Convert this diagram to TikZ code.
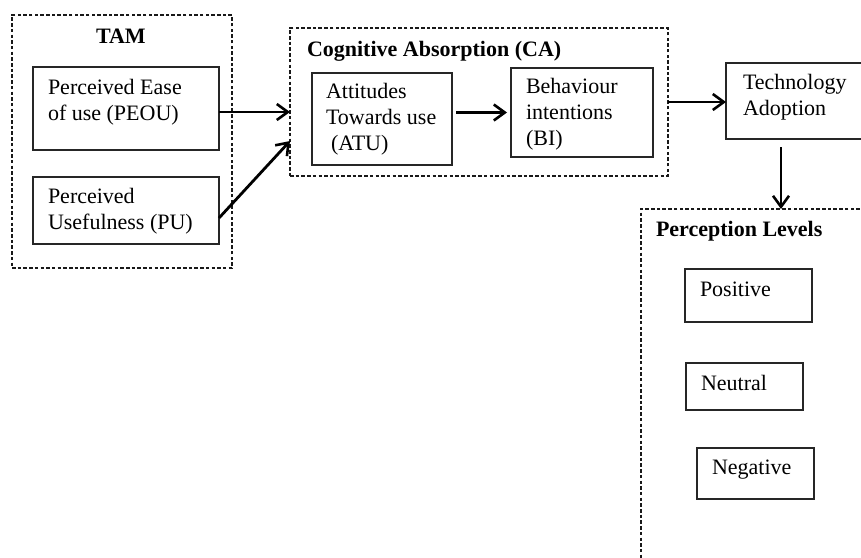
\documentclass[tikz,border=0pt]{standalone}
\usepackage{fontspec}
\setmainfont{Liberation Serif}
\usetikzlibrary{arrows.meta,calc}
\tikzset{
  box/.style={draw=black!85, line width=1.5pt, inner sep=0pt, outer sep=0pt, anchor=north west},
  grp/.style={draw=black!90, line width=2.2pt, dash pattern=on 3.5pt off 2.2pt, inner sep=0pt, outer sep=0pt, anchor=north west},
  txt/.style={inner sep=0pt, outer sep=0pt, anchor=base west, align=left, font=\fontsize{22}{25.8}\selectfont},
  ttl/.style={txt, font=\fontsize{22}{25.8}\selectfont\bfseries},
  arr/.style={line width=2.8pt, -{Straight Barb[length=11pt,width=16pt,line width=2.6pt]}}
}
\begin{document}
\begin{tikzpicture}[x=1pt,y=-1pt]
\useasboundingbox (0,0) rectangle (861,557);
\fill[white] (0,0) rectangle (861,557);
\clip (0,0) rectangle (861,557);
% groups
\node[grp, minimum width=220pt, minimum height=253pt] (tam) at (12,15) {};
\node[grp, minimum width=378pt, minimum height=148pt] (ca) at (290,28) {};
\node[grp, minimum width=240pt, minimum height=360pt] (perc) at (641,209) {};
% boxes
\node[box, minimum width=186pt, minimum height=83pt] (peou) at (33,67) {};
\node[box, minimum width=186pt, minimum height=67pt] (pu) at (33,177) {};
\node[box, minimum width=140pt, minimum height=92pt] (atu) at (312,73) {};
\node[box, minimum width=142pt, minimum height=89pt] (bi) at (511,68) {};
\node[box, minimum width=150pt, minimum height=76pt] (tech) at (726,63) {};
\node[box, minimum width=127pt, minimum height=53pt] (pos) at (685,269) {};
\node[box, minimum width=117pt, minimum height=47pt] (neu) at (686,363) {};
\node[box, minimum width=117pt, minimum height=51pt] (neg) at (697,448) {};
% titles
\node[ttl] (tamt) at (96,43) {TAM};
\node[ttl] (cat) at (307,56) {Cognitive Absorption (CA)};
\node[ttl] (perct) at (656,236) {Perception Levels};
% texts (base anchor = baseline of last line)
\node[txt] (peout) at (48,120) {Perceived Ease\\of use (PEOU)};
\node[txt] (put) at (48,229) {Perceived\\Usefulness (PU)};
\node[txt] (atut) at (326,150) {Attitudes\\Towards use\\\hspace*{5pt}(ATU)};
\node[txt] (bit) at (526,145) {Behaviour\\intentions\\(BI)};
\node[txt] (techt) at (743,115) {Technology\\Adoption};
\node[txt] (post) at (700,296) {Positive};
\node[txt] (neut) at (701,390) {Neutral};
\node[txt] (negt) at (712,474) {Negative};
% arrows
\draw[arr] ([yshift=-3.5pt]peou.east) -- ([yshift=-3.5pt]peou.east -| ca.west);
\draw[arr] ([yshift=-7.5pt]pu.east) -- ([yshift=-39pt]ca.west);
\coordinate (atuarr) at ([xshift=4pt]atu.east |- bi.west);
\draw[arr] (atuarr) -- ([xshift=-4pt]bi.west);
\draw[arr] (ca.east) -- (ca.east -| tech.west);
\coordinate (tdown) at ([xshift=55pt]tech.south west);
\draw[arr] ([yshift=-8pt]tdown) -- (tdown |- perc.north);
\end{tikzpicture}
\end{document}
